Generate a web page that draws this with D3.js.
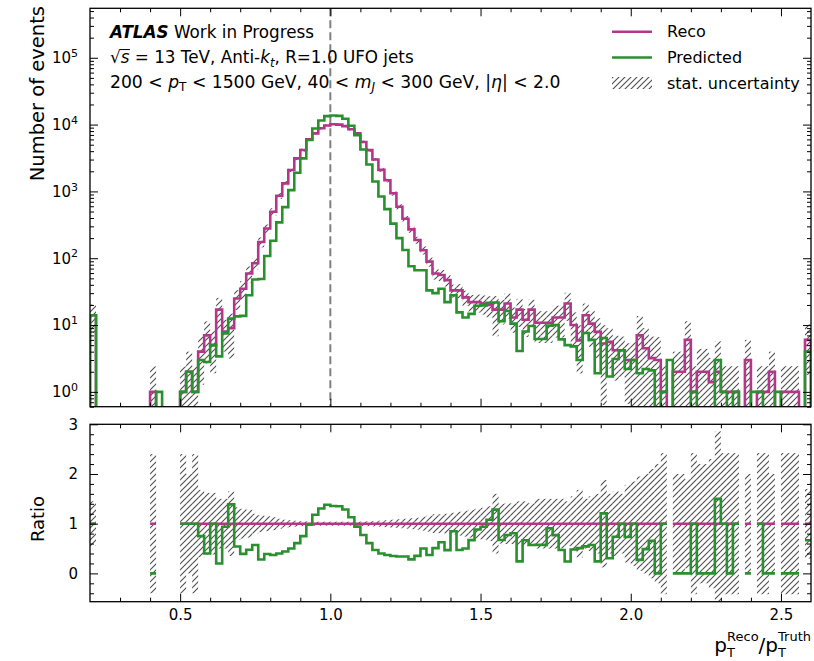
<!DOCTYPE html>
<html>
<head>
<meta charset="utf-8">
<script src="https://cdn.jsdelivr.net/npm/d3@7"></script>
<style>
  body { margin: 0; background: #fff; }
  svg text { font-family: 'DejaVu Sans', sans-serif; white-space: pre; }
</style>
</head>
<body>
<svg id="chart" width="814" height="661"></svg>
<script>
// ---- binning: 120 uniform bins of p_T^Reco/p_T^Truth between 0.2 and 2.6 ----
const xMin = 0.2, xMax = 2.6, nBins = 120;
const binEdges = d3.range(nBins + 1).map(i => +(xMin + (xMax - xMin) * i / nBins).toFixed(4));

// Reco histogram (events per bin)
const reco = [
  14, 0, 0, 0, 0, 0, 0, 0, 0, 0,
  1, 0, 0, 0, 0, 1, 2, 1, 4, 7,
  5, 17, 8, 9, 25, 35, 59, 84, 175, 278,
  495, 860, 1320, 2090, 3120, 4160, 6000, 7400, 8800, 9700,
  10100, 10000, 9500, 8500, 7400, 5500, 4150, 3000, 2100, 1470,
  940, 590, 390, 270, 187, 132, 89, 59, 56, 47,
  33, 33, 26, 22, 22, 21, 20, 17, 17, 21,
  13, 17, 12, 17, 10.8, 10.8, 10.8, 13, 13, 21,
  10, 5.9, 14, 10.5, 7.9, 5.3, 5.6, 4.2, 4.2, 3,
  3, 7, 4.5, 3.2, 3, 1, 0, 2, 2, 6,
  1, 2, 2, 1.4, 2, 1, 1, 1, 0, 3,
  0, 1, 1, 2, 0, 1, 1, 1, 0, 6
];

// Predicted histogram (events per bin)
const predicted = [
  14, 0, 0, 0, 0, 0, 0, 0, 0, 0,
  0, 1, 0, 0, 0, 1, 2, 1, 3, 2.8,
  5, 3.4, 7.5, 12.5, 13.5, 13.7, 28, 48, 49, 108,
  183, 344, 581, 1045, 1900, 3120, 5880, 8730, 11500, 13400,
  13700, 13500, 12200, 9600, 6960, 4240, 2530, 1410, 840, 544,
  329, 200, 133, 76, 66, 66, 33, 30, 35, 22,
  28, 15.5, 13, 14.7, 19.4, 19.7, 21.6, 21.8, 11.4, 16.2,
  10.5, 4.1, 8, 9.7, 6.2, 6.2, 9.8, 10, 6.1, 5,
  4.8, 3, 7.6, 6, 1.9, 6.4, 1.7, 3.1, 4.2, 2.2,
  3, 1.9, 2.2, 2.1, 0, 1, 3, 0, 0, 0,
  1, 0, 0, 0, 3, 1, 0, 1, 0, 0,
  1, 1, 0, 0, 1, 0, 0, 0, 0, 4
];

// Relative statistical uncertainty per bin (hatched band)
const relStatUnc = [
  0.45, 0, 0, 0, 0, 0, 0, 0, 0, 0,
  1.4, 0, 0, 0, 0, 1.4, 1.0, 1.4, 0.68, 0.62,
  0.62, 0.5, 0.5, 0.65, 0.33, 0.3, 0.28, 0.2, 0.17, 0.15,
  0.13, 0.1, 0.08, 0.07, 0.06, 0.05, 0.045, 0.04, 0.04, 0.04,
  0.04, 0.04, 0.04, 0.04, 0.04, 0.045, 0.05, 0.055, 0.06, 0.07,
  0.08, 0.09, 0.1, 0.11, 0.12, 0.14, 0.16, 0.19, 0.19, 0.2,
  0.22, 0.24, 0.26, 0.28, 0.3, 0.32, 0.35, 0.6, 0.4, 0.41,
  0.41, 0.45, 0.45, 0.41, 0.5, 0.5, 0.5, 0.5, 0.5, 0.45,
  0.55, 0.68, 0.5, 0.55, 0.6, 0.88, 0.6, 0.65, 0.6, 0.78,
  0.85, 0.95, 1.0, 1.1, 1.2, 1.42, 0, 1.0, 1.0, 0.9,
  1.42, 1.2, 1.2, 1.3, 1.86, 1.42, 1.42, 1.42, 0, 1.0,
  0, 1.42, 1.42, 1.0, 0, 1.42, 1.42, 1.42, 0, 0.7
];

// axis ticks
const xMajorTicks = [0.5, 1.0, 1.5, 2.0, 2.5];
const xMinorTicks = [0.3, 0.4, 0.6, 0.7, 0.8, 0.9, 1.1, 1.2, 1.3, 1.4, 1.6, 1.7, 1.8, 1.9, 2.1, 2.2, 2.3, 2.4];
const logMajorTicks = [1, 10, 100, 1000, 10000, 100000];
const ratioMajorTicks = [0, 1, 2, 3];
const ratioMinorTicks = [-0.4, -0.2, 0.2, 0.4, 0.6, 0.8, 1.2, 1.4, 1.6, 1.8, 2.2, 2.4, 2.6, 2.8];

const legendItems = ["Reco", "Predicted", "stat. uncertainty"];

// ---- colours & layout ----
const cReco = "#b5358b", cPred = "#28902d", cHatch = "#4d4d4d";
const L = 90, R = 811;
const topT = 8.3, topB = 406.7, ratT = 424.3, ratB = 601.7;

const svg = d3.select("#chart");
const defs = svg.append("defs");

const hatch = defs.append("pattern").attr("id", "hatch")
  .attr("patternUnits", "userSpaceOnUse").attr("width", 6).attr("height", 6);
hatch.append("path").attr("d", "M-1,1 l2,-2 M0,6 l6,-6 M5,7 l2,-2")
  .attr("stroke", cHatch).attr("stroke-width", 1.1);

defs.append("clipPath").attr("id", "clipTop").append("rect")
  .attr("x", L).attr("y", topT).attr("width", R - L).attr("height", topB - topT);
defs.append("clipPath").attr("id", "clipRat").append("rect")
  .attr("x", L).attr("y", ratT).attr("width", R - L).attr("height", ratB - ratT);

const x = d3.scaleLinear().domain([xMin, xMax]).range([L, R]);
const yTop = d3.scaleLog().domain([0.6, 5.5e5]).range([topB, topT]);
const yRat = d3.scaleLinear().domain([-0.57, 3]).range([ratB, ratT]);

const bins = d3.range(nBins).map(i => ({
  lo: binEdges[i], hi: binEdges[i + 1],
  reco: reco[i], pred: predicted[i], unc: relStatUnc[i]
}));

// ---------------- upper panel ----------------
const gTop = svg.append("g").attr("clip-path", "url(#clipTop)");

// statistical uncertainty band around the Reco histogram
gTop.selectAll("rect.band").data(bins.filter(b => b.reco > 0 && b.unc > 0)).join("rect")
  .attr("class", "band")
  .attr("x", b => x(b.lo)).attr("width", b => x(b.hi) - x(b.lo))
  .attr("y", b => yTop(b.reco * (1 + b.unc)))
  .attr("height", b => {
    const lo = b.reco * (1 - b.unc);
    const yLo = lo > 0 ? yTop(lo) : topB + 10;
    return yLo - yTop(b.reco * (1 + b.unc));
  })
  .attr("fill", "url(#hatch)");

// reference line at unity
gTop.append("line")
  .attr("x1", x(1)).attr("x2", x(1)).attr("y1", topT).attr("y2", topB)
  .attr("stroke", "#808080").attr("stroke-width", 2).attr("stroke-dasharray", "8,4");

function histPath(key) {
  const floor = topB + 20;
  let p = `M${x(binEdges[0])},${floor}`;
  bins.forEach(b => {
    const v = b[key];
    const yy = v > 0 ? yTop(v) : floor;
    p += `L${x(b.lo)},${yy}L${x(b.hi)},${yy}`;
  });
  p += `L${x(binEdges[nBins])},${floor}`;
  return p;
}
gTop.append("path").attr("d", histPath("reco"))
  .attr("fill", "none").attr("stroke", cReco).attr("stroke-width", 2.6);
gTop.append("path").attr("d", histPath("pred"))
  .attr("fill", "none").attr("stroke", cPred).attr("stroke-width", 2.6);

// ---------------- ratio panel ----------------
const gRat = svg.append("g").attr("clip-path", "url(#clipRat)");

gRat.selectAll("rect.band").data(bins.filter(b => b.reco > 0 && b.unc > 0)).join("rect")
  .attr("class", "band")
  .attr("x", b => x(b.lo)).attr("width", b => x(b.hi) - x(b.lo))
  .attr("y", b => yRat(1 + b.unc))
  .attr("height", b => yRat(1 - b.unc) - yRat(1 + b.unc))
  .attr("fill", "url(#hatch)");

// step segments, broken where the Reco bin is empty
function ratioPaths(fn) {
  const paths = [];
  let cur = null;
  bins.forEach(b => {
    if (b.reco > 0) {
      const yy = yRat(fn(b));
      if (!cur) cur = `M${x(b.lo)},${yy}`; else cur += `L${x(b.lo)},${yy}`;
      cur += `L${x(b.hi)},${yy}`;
    } else if (cur) { paths.push(cur); cur = null; }
  });
  if (cur) paths.push(cur);
  return paths;
}
gRat.selectAll("path.reco").data(ratioPaths(() => 1)).join("path")
  .attr("class", "reco").attr("d", d => d)
  .attr("fill", "none").attr("stroke", cReco).attr("stroke-width", 2.6);
gRat.selectAll("path.pred").data(ratioPaths(b => b.pred / b.reco)).join("path")
  .attr("class", "pred").attr("d", d => d)
  .attr("fill", "none").attr("stroke", cPred).attr("stroke-width", 2.6);

// ---------------- axes (inward ticks on all sides) ----------------
const tickStyle = g => {
  g.select(".domain").remove();
  g.selectAll(".tick line").attr("stroke", "#000").attr("stroke-width", 1);
  g.selectAll(".tick text").attr("fill", "#000").style("font-size", "15px");
};

function xAxes(yPos, dir, labels) {
  const axis = dir === "bottom" ? d3.axisBottom(x) : d3.axisTop(x);
  svg.append("g").attr("transform", `translate(0,${yPos})`)
    .call(axis.tickValues(xMajorTicks).tickSize(-8).tickPadding(8)
      .tickFormat(labels ? d3.format(".1f") : () => ""))
    .call(tickStyle);
  const axis2 = dir === "bottom" ? d3.axisBottom(x) : d3.axisTop(x);
  svg.append("g").attr("transform", `translate(0,${yPos})`)
    .call(axis2.tickValues(xMinorTicks).tickSize(-4).tickFormat(() => ""))
    .call(tickStyle);
}
xAxes(topB, "bottom", false);
xAxes(topT, "top", false);
xAxes(ratB, "bottom", true);
xAxes(ratT, "top", false);

const logMinor = [];
[-1, 0, 1, 2, 3, 4, 5].forEach(e => d3.range(2, 10).forEach(k => {
  const v = k * Math.pow(10, e);
  if (v >= 0.6 && v <= 5.5e5) logMinor.push(v);
}));

// log axis (left with labels, right without)
const gy = svg.append("g").attr("transform", `translate(${L},0)`)
  .call(d3.axisLeft(yTop).tickValues(logMajorTicks).tickSize(-8).tickPadding(12)
    .tickFormat(() => ""))
  .call(tickStyle);
gy.selectAll(".tick text").each(function (d) {
  const t = d3.select(this);
  t.append("tspan").text("10");
  t.append("tspan").attr("dy", "-0.55em").style("font-size", "11px").text(Math.round(Math.log10(d)));
});
svg.append("g").attr("transform", `translate(${L},0)`)
  .call(d3.axisLeft(yTop).tickValues(logMinor).tickSize(-4).tickFormat(() => "")).call(tickStyle);
svg.append("g").attr("transform", `translate(${R},0)`)
  .call(d3.axisRight(yTop).tickValues(logMajorTicks).tickSize(-8).tickFormat(() => "")).call(tickStyle);
svg.append("g").attr("transform", `translate(${R},0)`)
  .call(d3.axisRight(yTop).tickValues(logMinor).tickSize(-4).tickFormat(() => "")).call(tickStyle);

// ratio axis
svg.append("g").attr("transform", `translate(${L},0)`)
  .call(d3.axisLeft(yRat).tickValues(ratioMajorTicks).tickSize(-8).tickPadding(12)
    .tickFormat(d3.format("d")))
  .call(tickStyle);
svg.append("g").attr("transform", `translate(${L},0)`)
  .call(d3.axisLeft(yRat).tickValues(ratioMinorTicks).tickSize(-4).tickFormat(() => "")).call(tickStyle);
svg.append("g").attr("transform", `translate(${R},0)`)
  .call(d3.axisRight(yRat).tickValues(ratioMajorTicks).tickSize(-8).tickFormat(() => "")).call(tickStyle);
svg.append("g").attr("transform", `translate(${R},0)`)
  .call(d3.axisRight(yRat).tickValues(ratioMinorTicks).tickSize(-4).tickFormat(() => "")).call(tickStyle);

// frames
[[topT, topB], [ratT, ratB]].forEach(([t, b]) => {
  svg.append("rect").attr("x", L).attr("y", t).attr("width", R - L).attr("height", b - t)
    .attr("fill", "none").attr("stroke", "#000").attr("stroke-width", 1.3);
});

// ---------------- text ----------------
// sequential text runs; items with sub/sup are stacked at the same x
function textRuns(g, x0, y0, items, size) {
  let cx = x0;
  items.forEach(it => {
    if (it.sub !== undefined || it.sup !== undefined) {
      let w = 0;
      const ss = it.ssize || size * 0.7;
      if (it.sub !== undefined) {
        const t = g.append("text").attr("x", cx).attr("y", y0 + (it.subDy ?? size * 0.22))
          .style("font-size", ss + "px").style("font-style", it.italic ? "italic" : "normal").text(it.sub);
        w = Math.max(w, t.node().getComputedTextLength());
      }
      if (it.sup !== undefined) {
        const t = g.append("text").attr("x", cx).attr("y", y0 - (it.supDy ?? size * 0.42))
          .style("font-size", ss + "px").text(it.sup);
        w = Math.max(w, t.node().getComputedTextLength());
      }
      cx += w;
      return;
    }
    const fs = it.size || size;
    const t = g.append("text").attr("x", cx).attr("y", y0)
      .style("font-size", fs + "px")
      .style("font-style", it.italic ? "italic" : "normal")
      .style("font-weight", it.bold ? "bold" : "normal")
      .text(it.t);
    const w = t.node().getComputedTextLength();
    if (it.over) {
      g.append("line").attr("x1", cx - 1).attr("x2", cx + w + 0.5)
        .attr("y1", y0 - fs * 0.80).attr("y2", y0 - fs * 0.80)
        .attr("stroke", "#000").attr("stroke-width", 1);
    }
    cx += w;
  });
  return cx;
}

const gTxt = svg.append("g");
textRuns(gTxt, 110, 37.5, [
  { t: "ATLAS", bold: true, italic: true },
  { t: " Work in Progress" }
], 16.8);
textRuns(gTxt, 110, 63, [
  { t: "\u221A" }, { t: "s", italic: true, over: true },
  { t: " = 13 TeV, Anti-" }, { t: "k", italic: true },
  { sub: "t", italic: true },
  { t: ", R=1.0 UFO jets" }
], 16.8);
textRuns(gTxt, 110, 87.5, [
  { t: "200 < " }, { t: "p", italic: true }, { sub: "T" },
  { t: " < 1500 GeV, 40 < " }, { t: "m", italic: true }, { sub: "J", italic: true },
  { t: " < 300 GeV, |" }, { t: "\u03B7", italic: true }, { t: "| < 2.0" }
], 17.2);

// legend
const gLeg = svg.append("g");
const legY = [31.7, 57.5, 83];
gLeg.append("line").attr("x1", 612).attr("x2", 652).attr("y1", legY[0]).attr("y2", legY[0])
  .attr("stroke", cReco).attr("stroke-width", 2.6);
gLeg.append("line").attr("x1", 612).attr("x2", 652).attr("y1", legY[1]).attr("y2", legY[1])
  .attr("stroke", cPred).attr("stroke-width", 2.6);
gLeg.append("rect").attr("x", 612).attr("y", legY[2] - 6).attr("width", 40).attr("height", 12)
  .attr("fill", "url(#hatch)");
legendItems.forEach((s, i) => {
  gLeg.append("text").attr("x", 667).attr("y", legY[i]).attr("dy", "0.36em")
    .style("font-size", "16px").text(s);
});

// axis titles
svg.append("text").attr("transform", `translate(44,6) rotate(-90)`)
  .attr("text-anchor", "end").style("font-size", "19.5px").text("Number of events");
svg.append("text").attr("transform", `translate(44,${(ratT + ratB) / 2 + 6}) rotate(-90)`)
  .attr("text-anchor", "middle").style("font-size", "18px").text("Ratio");

const gXl = svg.append("g");
const xlEnd = textRuns(gXl, 0, 652, [
  { t: "p" }, { sub: "T", sup: "Reco", ssize: 13, subDy: 5, supDy: 11 },
  { t: "/" },
  { t: "p" }, { sub: "T", sup: "Truth", ssize: 13, subDy: 5, supDy: 11 }
], 20);
gXl.attr("transform", `translate(${R - xlEnd},0)`);
</script>
</body>
</html>
